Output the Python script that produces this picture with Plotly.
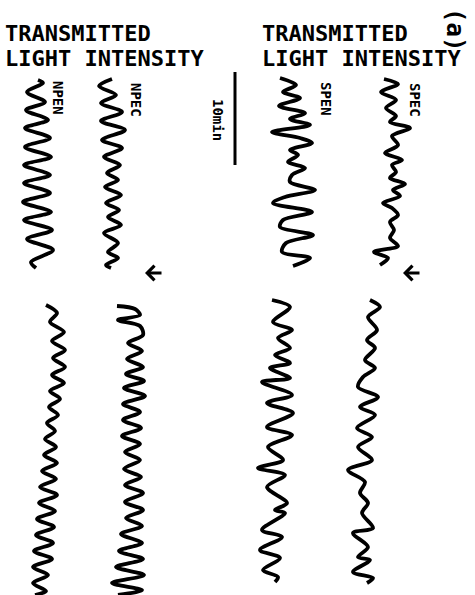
import plotly.graph_objects as go

# time axis in chart units (10 min scale bar = 93 units); intensity in chart units
# ---- upper records (before arrow) ----
npen_a_t = [80, 83, 92, 102, 110, 120, 128, 138, 147, 157, 165, 175, 183, 193, 202, 212, 220, 230, 239, 250, 262, 268]
npen_a_i = [38, 43, 27, 45, 26, 48, 25, 50, 25, 51, 24, 50, 24, 50, 23, 51, 24, 52, 27, 53, 31, 36]

npec_a_t = [79, 86, 95, 103, 112, 121, 130, 140, 148, 157, 165, 173, 180, 187, 195, 203, 210, 217, 225, 233, 243, 252, 258, 265, 268]
npec_a_i = [112, 99, 116, 101, 122, 101, 125, 102, 122, 104, 120, 107, 118, 105, 121, 106, 119, 108, 121, 104, 118, 108, 118, 106, 111]

spen_a_t = [78, 85, 92, 98, 106, 113, 119, 125, 132, 138, 143, 150, 155, 162, 168, 175, 182, 190, 197, 203, 212, 220, 227, 235, 243, 252, 258, 266]
spen_a_i = [280, 296, 283, 300, 279, 305, 290, 310, 272, 300, 312, 290, 298, 288, 305, 292, 290, 315, 285, 273, 312, 283, 280, 313, 286, 282, 310, 293]

spec_a_t = [79, 84, 92, 100, 108, 116, 122, 128, 136, 145, 153, 160, 165, 172, 178, 184, 190, 196, 203, 208, 215, 222, 230, 238, 246, 252, 258, 265]
spec_a_i = [384, 398, 381, 396, 386, 396, 390, 410, 392, 398, 385, 402, 392, 396, 390, 405, 393, 400, 383, 392, 398, 390, 394, 390, 398, 374, 388, 380]

# ---- lower records (after arrow) ----
npen_b_t = [305, 313, 322, 332, 341, 350, 358, 367, 375, 383, 391, 399, 407, 415, 423, 431, 439, 447, 455, 463, 471, 479, 487, 495, 503, 511, 519, 527, 535, 543, 551, 559, 567, 575, 583, 591, 595]
npen_b_i = [46, 57, 50, 64, 52, 65, 53, 65, 52, 64, 50, 60, 49, 58, 47, 55, 45, 56, 44, 57, 42, 56, 40, 57, 39, 55, 37, 54, 36, 53, 34, 52, 33, 48, 33, 46, 35]

npec_b_t = [306, 309, 315, 320, 326, 335, 343, 351, 359, 367, 374, 381, 388, 396, 404, 412, 420, 428, 436, 444, 452, 460, 469, 477, 485, 493, 502, 510, 518, 526, 534, 543, 551, 559, 567, 575, 583, 590, 595]
npec_b_i = [117, 135, 140, 118, 140, 143, 128, 142, 127, 143, 126, 144, 124, 145, 123, 140, 123, 141, 122, 140, 125, 140, 124, 141, 125, 143, 125, 143, 126, 142, 121, 142, 119, 143, 116, 144, 112, 142, 118]

spen_b_t = [300, 307, 322, 330, 338, 348, 355, 363, 368, 378, 382, 395, 403, 413, 427, 435, 447, 460, 468, 475, 487, 503, 510, 513, 530, 537, 550, 558, 570, 577, 582]
spen_b_i = [272, 290, 273, 292, 278, 290, 275, 290, 270, 290, 262, 292, 267, 293, 267, 292, 268, 283, 258, 285, 267, 287, 275, 285, 262, 282, 260, 280, 263, 278, 275]

spec_b_t = [300, 307, 317, 330, 340, 348, 360, 368, 377, 387, 397, 407, 415, 428, 437, 447, 460, 470, 482, 493, 503, 513, 528, 533, 547, 557, 560, 572, 578, 583]
spec_b_i = [370, 380, 368, 377, 367, 375, 365, 375, 363, 358, 378, 360, 375, 357, 372, 358, 372, 348, 365, 360, 368, 362, 373, 353, 368, 358, 370, 353, 373, 367]

records = [
    (npen_a_i, npen_a_t), (npec_a_i, npec_a_t), (spen_a_i, spen_a_t), (spec_a_i, spec_a_t),
    (npen_b_i, npen_b_t), (npec_b_i, npec_b_t), (spen_b_i, spen_b_t), (spec_b_i, spec_b_t),
]

scale_t = [72, 165]
scale_i = [235, 235]

# arrow markers (record break): head position, tail position
arrow_i = [145, 403]
arrow_tail_i = [163, 421]
arrow_t = [273, 273]

FONT = "DejaVu Sans Mono"

fig = go.Figure()
for xi, yt in records:
    fig.add_trace(go.Scatter(x=xi, y=yt, mode="lines",
                             line=dict(color="#000", width=3.8, shape="spline", smoothing=0.9),
                             hoverinfo="skip", showlegend=False))
fig.add_trace(go.Scatter(x=scale_i, y=scale_t, mode="lines",
                         line=dict(color="#000", width=3), hoverinfo="skip", showlegend=False))

def txt(x, y, s, size, angle=0, xanchor="left", yanchor="top"):
    fig.add_annotation(x=x, y=y, xref="x", yref="y", text=s, showarrow=False,
                       textangle=angle, xanchor=xanchor, yanchor=yanchor,
                       font=dict(family=FONT, size=size, color="#000", weight="bold"))

txt(3, 19, "TRANSMITTED", 22)
txt(3, 44, "LIGHT INTENSITY", 22)
txt(260, 19, "TRANSMITTED", 22)
txt(260, 44, "LIGHT INTENSITY", 22)
txt(455, 29, "(a)", 24, angle=90, xanchor="center", yanchor="middle")
txt(58, 98, "NPEN", 14, angle=90, xanchor="center", yanchor="middle")
txt(136, 100, "NPEC", 14, angle=90, xanchor="center", yanchor="middle")
txt(326, 99, "SPEN", 14, angle=90, xanchor="center", yanchor="middle")
txt(415, 100, "SPEC", 14, angle=90, xanchor="center", yanchor="middle")
txt(218, 120, "10min", 14, angle=90, xanchor="center", yanchor="middle")

for h, tl, t in zip(arrow_i, arrow_tail_i, arrow_t):
    fig.add_annotation(x=h, y=t, ax=tl, ay=t, xref="x", yref="y", axref="x", ayref="y",
                       text="", showarrow=True, arrowhead=4, arrowsize=1.0,
                       arrowwidth=2.8, arrowcolor="#000")

fig.update_layout(
    width=475, height=595, margin=dict(l=0, r=0, t=0, b=0),
    paper_bgcolor="white", plot_bgcolor="white",
    xaxis=dict(range=[0, 475], visible=False, fixedrange=True),
    yaxis=dict(range=[595, 0], visible=False, fixedrange=True),
)
fig.write_html("out.html")
